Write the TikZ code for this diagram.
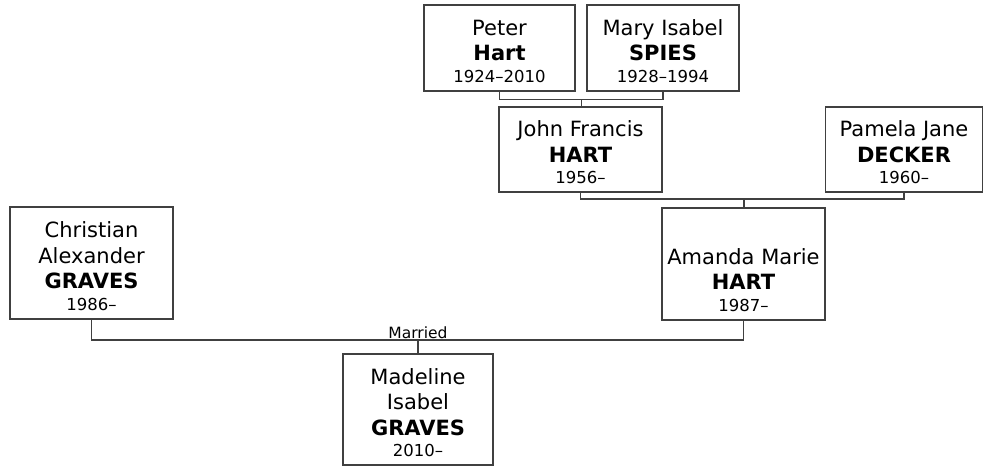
\documentclass[tikz,border=0pt]{standalone}
\usepackage{fontspec}
\setmainfont{DejaVu Sans}
\usetikzlibrary{calc}
\begin{document}
\begin{tikzpicture}[x=1pt,y=-1pt,
  person/.style={draw=black!75, line width=1.3pt, fill=white, align=center, inner sep=0pt,
    font=\fontsize{21}{25.5}\selectfont},
  link/.style={draw=black!75, line width=1.3pt},
  lbl/.style={font=\fontsize{15.5}{18}\selectfont, inner sep=1.5pt}]
\newcommand{\yr}[1]{{\fontsize{16.5}{16.5}\selectfont #1}}
\newcommand{\tp}{\rule{0pt}{22pt}}
\useasboundingbox (0,0) rectangle (984,466);
\node[person, minimum width=151pt, minimum height=86pt] (peter) at (499.5,48) {\tp Peter\\\textbf{Hart}\\[-4pt]\yr{1924–2010}};
\node[person, minimum width=152pt, minimum height=86pt] (mary) at (663,48) {\tp Mary Isabel\\\textbf{SPIES}\\[-4pt]\yr{1928–1994}};
\node[person, minimum width=163pt, minimum height=85pt] (john) at (580.5,149.5) {\tp John Francis\\\textbf{HART}\\[-4pt]\yr{1956–}};
\node[person, minimum width=157pt, minimum height=85pt] (pamela) at (904,149.5) {\tp Pamela Jane\\\textbf{DECKER}\\[-4pt]\yr{1960–}};
\node[person, minimum width=163pt, minimum height=112pt] (amanda) at (743.5,264) {\tp\\Amanda Marie\\\textbf{HART}\\[-4pt]\yr{1987–}};
\node[person, minimum width=163pt, minimum height=112pt] (christian) at (91.5,263) {\tp Christian\\Alexander\\\textbf{GRAVES}\\[-4pt]\yr{1986–}};
\node[person, minimum width=150pt, minimum height=111pt] (madeline) at (418,409.5) {\tp Madeline\\Isabel\\\textbf{GRAVES}\\[-4pt]\yr{2010–}};
% connectors
\coordinate (b1) at ($(peter.south)!0.5!(mary.south)+(0,8)$);
\draw[link] (peter.south) |- (b1) -| (mary.south);
\draw[link] (b1) -- (b1 |- john.north);
\coordinate (b2) at (744,199);
\draw[link] (john.south) |- (b2) -| (pamela.south);
\draw[link] (b2) -- (b2 |- amanda.north);
\coordinate (b3) at (418,340);
\draw[link] (christian.south) |- (b3) -| (amanda.south);
\draw[link] (b3) -- (b3 |- madeline.north);
\node[lbl, anchor=south] (married) at (b3) {Married};
\end{tikzpicture}
\end{document}
